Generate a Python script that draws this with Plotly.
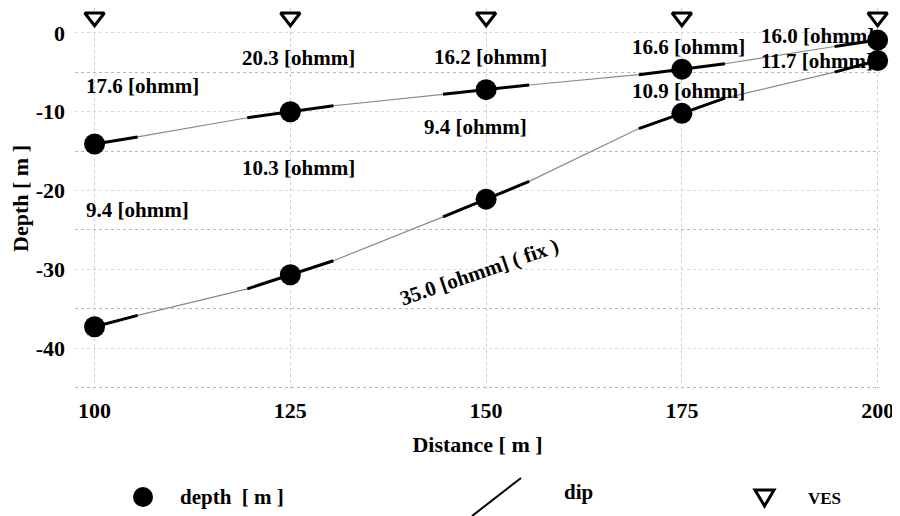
import plotly.graph_objects as go

# ---------------- data ----------------
distance = [100, 125, 150, 175, 200]
depth_upper = [-14.1, -10.0, -7.2, -4.6, -0.9]
depth_lower = [-37.3, -30.7, -21.1, -10.2, -3.5]
ves_marker_level = [2.0, 2.0, 2.0, 2.0, 2.0]

rho_layer1 = ["17.6", "20.3", "16.2", "16.6", "16.0"]
rho_layer2 = ["9.4", "10.3", "9.4", "10.9", "11.7"]
rho_layer3 = "35.0"

x_ticks = [100, 125, 150, 175, 200]
y_ticks = [0, -10, -20, -30, -40]

# ---------------- layout constants ----------------
OFF = 8                      # page body margin of the html page
W, H = 900 - OFF, 516 - OFF
ML, MR, MT, MB = 67, 20, 0, 127
PW, PH = W - ML - MR, H - MT - MB
XR = [97.5, 200.3]
YR = [-45.2, 3.17]
FONT = "Liberation Serif"
HALF = 5.5  # half length of dip bars (m)


def paper_x(p):
    """screen pixel -> paper x"""
    return (p - OFF - ML) / PW


def paper_y(p):
    """screen pixel -> paper y"""
    return (H - MB - (p - OFF)) / PH


def local_dips(xs, ys):
    n = len(xs)
    out = []
    for i in range(n):
        if i == 0:
            out.append((ys[1] - ys[0]) / (xs[1] - xs[0]))
        elif i == n - 1:
            out.append((ys[-1] - ys[-2]) / (xs[-1] - xs[-2]))
        else:
            out.append((ys[i + 1] - ys[i - 1]) / (xs[i + 1] - xs[i - 1]))
    return out


def dip_traces(xs, ys):
    s = local_dips(xs, ys)
    n = len(xs)
    thin_x, thin_y = [xs[0]], [ys[0]]
    thick_x, thick_y = [], []
    for i in range(n):
        lo = 0 if i == 0 else HALF
        hi = 0 if i == n - 1 else HALF
        thick_x += [xs[i] - lo, xs[i] + hi, None]
        thick_y += [ys[i] - lo * s[i], ys[i] + hi * s[i], None]
        if i > 0:
            thin_x.append(xs[i] - lo)
            thin_y.append(ys[i] - lo * s[i])
        if i < n - 1:
            thin_x.append(xs[i] + hi)
            thin_y.append(ys[i] + hi * s[i])
    thin_x.append(xs[-1])
    thin_y.append(ys[-1])
    return (
        go.Scatter(x=thin_x, y=thin_y, mode="lines",
                   line=dict(color="#8a8a8a", width=1.2),
                   hoverinfo="skip", showlegend=False),
        go.Scatter(x=thick_x, y=thick_y, mode="lines",
                   line=dict(color="black", width=3),
                   hoverinfo="skip", showlegend=False),
    )


fig = go.Figure()

for ys in (depth_upper, depth_lower):
    thin, thick = dip_traces(distance, ys)
    fig.add_trace(thin)
    fig.add_trace(thick)

fig.add_trace(go.Scatter(
    x=distance, y=ves_marker_level, mode="markers",
    marker=dict(symbol="triangle-down", size=17, color="white",
                line=dict(color="black", width=3)),
    showlegend=False, cliponaxis=False))

# ---------------- resistivity labels ----------------
lab_font = dict(family=FONT, size=21, color="black", weight="bold")

# (x, y, xanchor) for each label of layer 1 and layer 2 (data coords)
pos_l1 = [(None, -6.7, "left"), (126.1, -3.2, "center"), (150.6, -3.0, "center"),
          (175.8, -1.8, "center"), (184.9, -0.4, "left")]
pos_l2 = [(None, -22.5, "left"), (126.1, -17.1, "center"), (148.7, -11.9, "center"),
          (175.8, -7.4, "center"), (184.9, -3.55, "left")]
LEFT_LABEL_PX = 84  # labels of the first sounding start left of the plot area

for txts, poss in ((rho_layer1, pos_l1), (rho_layer2, pos_l2)):
    for t, (x, y, xa) in zip(txts, poss):
        if x is None:
            fig.add_annotation(xref="paper", x=paper_x(LEFT_LABEL_PX), y=y,
                               text=f"{t} [ohmm]", showarrow=False,
                               xanchor=xa, yanchor="middle", font=lab_font)
        else:
            fig.add_annotation(x=x, y=y, text=f"{t} [ohmm]", showarrow=False,
                               xanchor=xa, yanchor="middle", font=lab_font)

fig.add_annotation(x=149.1, y=-30.3, text=f"{rho_layer3} [ohmm] ( fix )",
                   showarrow=False, textangle=-19, font=lab_font)

# depth markers drawn on top of the labels (they hide the label ends at 200 m)
for ys in (depth_upper, depth_lower):
    fig.add_trace(go.Scatter(
        x=distance, y=ys, mode="markers",
        marker=dict(symbol="circle", size=21, color="black"),
        showlegend=False, cliponaxis=False))

# ---------------- manual legend ----------------
leg_font = dict(family=FONT, size=21, color="black", weight="bold")
fig.add_shape(type="circle", xref="paper", yref="paper",
              x0=paper_x(133), x1=paper_x(153), y0=paper_y(507), y1=paper_y(487),
              fillcolor="black", line=dict(color="black", width=0))
fig.add_annotation(xref="paper", yref="paper", x=paper_x(178), y=paper_y(497),
                   text="depth  [ m ]", showarrow=False, xanchor="left",
                   yanchor="middle", font=leg_font)
fig.add_shape(type="line", xref="paper", yref="paper",
              x0=paper_x(472), y0=paper_y(516), x1=paper_x(521), y1=paper_y(478),
              line=dict(color="black", width=2))
fig.add_annotation(xref="paper", yref="paper", x=paper_x(562), y=paper_y(492),
                   text="dip", showarrow=False, xanchor="left",
                   yanchor="middle", font=leg_font)
tri = "M {} {} L {} {} L {} {} Z".format(
    paper_x(755), paper_y(490), paper_x(774), paper_y(490), paper_x(764.5), paper_y(506))
fig.add_shape(type="path", xref="paper", yref="paper", path=tri,
              fillcolor="white", line=dict(color="black", width=3))
fig.add_annotation(xref="paper", yref="paper", x=paper_x(806), y=paper_y(498),
                   text="VES", showarrow=False, xanchor="left",
                   yanchor="middle", font=dict(family=FONT, size=17, color="black",
                                               weight="bold"))

axis_font = dict(family=FONT, size=22, color="black", weight="bold")
title_font = dict(family=FONT, size=22, color="black", weight="bold")

fig.update_layout(
    width=W, height=H,
    margin=dict(l=ML, r=MR, t=MT, b=MB),
    paper_bgcolor="white", plot_bgcolor="white",
    showlegend=False,
    xaxis=dict(range=XR, tickvals=x_ticks, ticktext=[str(v) for v in x_ticks],
               tickfont=axis_font, showgrid=True, gridcolor="#cfcfcf",
               griddash="dot", gridwidth=1, zeroline=False, showline=False,
               ticks="", ticklabelstandoff=6, automargin=False,
               title=dict(text="Distance [ m ]", font=title_font, standoff=14)),
    yaxis=dict(range=YR, tickvals=y_ticks, ticktext=[str(v) for v in y_ticks],
               tickfont=axis_font, showgrid=True, gridcolor="#d8d8d8",
               griddash="dot", gridwidth=1, zeroline=False, showline=False,
               ticks="", ticklabelstandoff=9, automargin=False,
               minor=dict(dtick=5, tick0=0, showgrid=True, gridcolor="#b8b8b8",
                          griddash="dot", gridwidth=1),
               title=dict(text="Depth [ m ]", font=title_font, standoff=4)),
)

fig.write_html("out.html")
